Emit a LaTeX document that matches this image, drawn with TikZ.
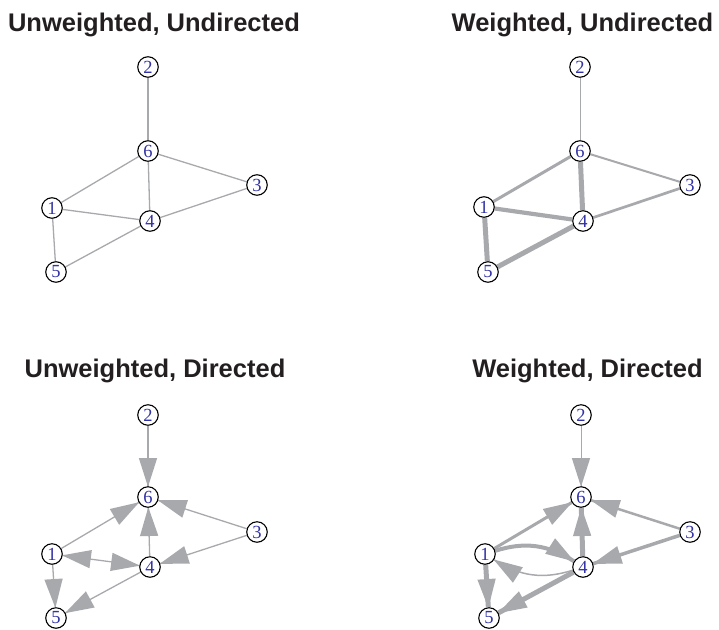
\documentclass[tikz,border=0pt]{standalone}
\usepackage{fontspec}
\usetikzlibrary{calc,backgrounds}
\newfontfamily\lblfam{Liberation Serif}
\newfontfamily\ttlfam{Liberation Sans}
\definecolor{edgegray}{RGB}{168,169,173}
\definecolor{lblblue}{RGB}{50,50,165}
\definecolor{ttlblack}{RGB}{35,31,32}
% arrowhead: #1 target node, #2 source node, #3 rotation angle at target
\newcommand\ahd[3]{%
 \coordinate (ahT) at ($(#1)!10.2pt!#3:(#2)$);
 \coordinate (ahB) at ($(#1)!39pt!#3:(#2)$);
 \coordinate (ahM) at ($(#1)!24.6pt!#3:(#2)$);
 \coordinate (ahC) at ($(ahB)!9.2pt!90:(ahT)$);
 \coordinate (ahD) at ($(ahB)!9.2pt!-90:(ahT)$);
 \coordinate (ahP) at ($(ahM)!3.8pt!90:(ahT)$);
 \coordinate (ahQ) at ($(ahM)!3.8pt!-90:(ahT)$);
 \fill[edgegray] (ahT) .. controls (ahP) .. (ahC) -- (ahD) .. controls (ahQ) .. (ahT) -- cycle;}
\tikzset{
 vtx/.style={circle, draw=black, line width=1.1pt, fill=white, minimum size=20.5pt, inner sep=0pt,
   text=lblblue, font=\lblfam\fontsize{18.5}{18.5}\selectfont},
 edg/.style={draw=edgegray, line width=1.3pt},
 ttl/.style={anchor=base, text=ttlblack, font=\ttlfam\bfseries\fontsize{25.5}{25.5}\selectfont},
}
\begin{document}
\begin{tikzpicture}[x=1pt,y=-1pt]
\useasboundingbox (0,0) rectangle (719,629);
% titles
\node[ttl] (t1) at (154,31) {Unweighted, Undirected};
\node[ttl] (t2) at (582.5,31) {Weighted, Undirected};
\node[ttl] (t3) at (155,377) {Unweighted, Directed};
\node[ttl] (t4) at (587.5,377) {Weighted, Directed};
% panel A
\node[vtx] (a1) at (52,208) {1};
\node[vtx] (a2) at (148,67) {2};
\node[vtx] (a3) at (257,185) {3};
\node[vtx] (a4) at (150,221) {4};
\node[vtx] (a5) at (56,272) {5};
\node[vtx] (a6) at (148,151) {6};
% panel B
\node[vtx] (b1) at (484,207) {1};
\node[vtx] (b2) at (580,67) {2};
\node[vtx] (b3) at (690,185) {3};
\node[vtx] (b4) at (583,221) {4};
\node[vtx] (b5) at (488,272) {5};
\node[vtx] (b6) at (580,151) {6};
% panel C
\node[vtx] (c1) at (52,554) {1};
\node[vtx] (c2) at (148,415) {2};
\node[vtx] (c3) at (257,532) {3};
\node[vtx] (c4) at (150,567) {4};
\node[vtx] (c5) at (56,618) {5};
\node[vtx] (c6) at (148,497) {6};
% panel D
\node[vtx] (d1) at (485,554) {1};
\node[vtx] (d2) at (581,415) {2};
\node[vtx] (d3) at (690,532) {3};
\node[vtx] (d4) at (583,567) {4};
\node[vtx] (d5) at (489,618) {5};
\node[vtx] (d6) at (581,497) {6};
\begin{pgfonlayer}{background}
% A: unweighted undirected
\draw[edg] (a2) -- (a6);
\draw[edg] (a6) -- (a3);
\draw[edg] (a6) -- (a1);
\draw[edg] (a6) -- (a4);
\draw[edg] (a1) -- (a4);
\draw[edg] (a4) -- (a3);
\draw[edg] (a1) -- (a5);
\draw[edg] (a5) -- (a4);
% B: weighted undirected
\draw[edg, line width=1pt] (b2) -- (b6);
\draw[edg, line width=2pt] (b6) -- (b3);
\draw[edg, line width=3pt] (b6) -- (b1);
\draw[edg, line width=5pt] (b6) -- (b4);
\draw[edg, line width=4.2pt] (b1) -- (b4);
\draw[edg, line width=2.7pt] (b4) -- (b3);
\draw[edg, line width=5pt] (b1) -- (b5);
\draw[edg, line width=5pt] (b5) -- (b4);
% C: unweighted directed
\draw[edg] (c2) -- (c6); \ahd{c6}{c2}{0}
\draw[edg] (c1) -- (c6); \ahd{c6}{c1}{0}
\draw[edg] (c4) -- (c6); \ahd{c6}{c4}{0}
\draw[edg] (c3) -- (c6); \ahd{c6}{c3}{0}
\draw[edg] (c3) -- (c4); \ahd{c4}{c3}{0}
\draw[edg] (c1) -- (c4); \ahd{c4}{c1}{0} \ahd{c1}{c4}{0}
\draw[edg] (c1) -- (c5); \ahd{c5}{c1}{0}
\draw[edg] (c4) -- (c5); \ahd{c5}{c4}{0}
% D: weighted directed
\draw[edg, line width=1pt] (d2) -- (d6); \ahd{d6}{d2}{0}
\draw[edg, line width=3pt] (d1) -- (d6); \ahd{d6}{d1}{0}
\draw[edg, line width=5pt] (d4) -- (d6); \ahd{d6}{d4}{0}
\draw[edg, line width=2.5pt] (d3) -- (d6); \ahd{d6}{d3}{0}
\draw[edg, line width=3.5pt] (d3) -- (d4); \ahd{d4}{d3}{0}
\draw[edg, line width=4pt] (d1) to[bend left=25] (d4); \ahd{d4}{d1}{-25}
\draw[edg, line width=1.5pt] (d4) to[bend left=25] (d1); \ahd{d1}{d4}{-25}
\draw[edg, line width=5pt] (d1) -- (d5); \ahd{d5}{d1}{0}
\draw[edg, line width=5pt] (d4) -- (d5); \ahd{d5}{d4}{0}
\end{pgfonlayer}
\end{tikzpicture}
\end{document}
